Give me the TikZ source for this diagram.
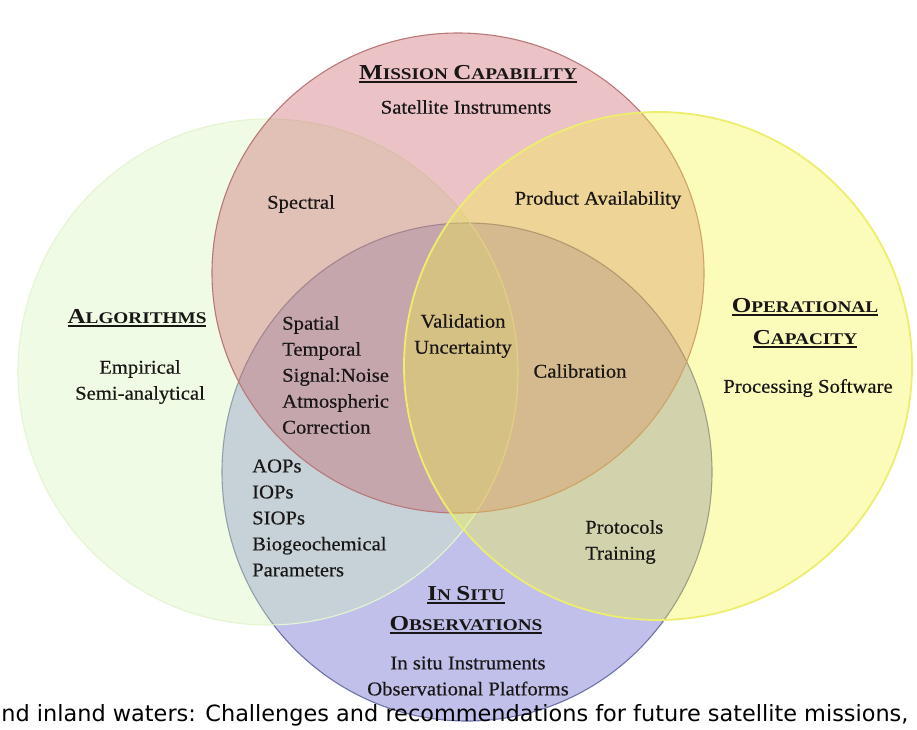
\documentclass[tikz,border=0pt]{standalone}
\usepackage{fontspec}
\setmainfont[FakeStretch=1.06, FakeBold=0.35]{Liberation Serif}
\newfontfamily\headfont[FakeStretch=1.18]{Liberation Serif}
\newfontfamily\capfont{DejaVu Sans}

% circle fills (drawn with partial opacity) and outlines
\definecolor{blueF}{RGB}{75,75,198}
\definecolor{blueE}{RGB}{110,115,165}
\definecolor{greenF}{RGB}{210,245,180}
\definecolor{greenE}{RGB}{228,245,210}
\definecolor{redF}{RGB}{200,85,95}
\definecolor{redE}{RGB}{185,120,120}
\definecolor{yellowF}{RGB}{246,246,60}
\definecolor{yellowE}{RGB}{238,238,110}
\definecolor{txt}{RGB}{25,22,22}

% small-caps headings: a large initial followed by reduced capitals
\newcommand\hsc[2]{{\fontsize{21.3}{26}\selectfont #1}{\fontsize{16.3}{26}\selectfont #2}}
% heavy rule under a heading line
\newcommand\ulhead[1]{\setbox0=\hbox{#1}\rlap{\rule[-4pt]{\wd0}{2.2pt}}\box0}

\begin{document}
\begin{tikzpicture}[x=1pt,y=-1pt,
  body/.style={font=\fontsize{19.5}{26}\selectfont, text=txt, inner sep=0pt},
  listL/.style={body, align=left},
  listC/.style={body, align=center},
  head/.style={font=\headfont\bfseries\fontsize{18}{26}\selectfont, text=txt, inner sep=0pt, anchor=base},
  venn/.style={fill opacity=0.35, line width=1.1pt}]
\useasboundingbox (0,0) rectangle (917,729);
\fill[white] (0,0) rectangle (917,729);

% the four sets
\filldraw[venn, fill=blueF, draw=blueE] (467,472) ellipse [x radius=245pt, y radius=249pt];
\filldraw[venn, fill=greenF, draw=greenE] (268,372) ellipse [x radius=250pt, y radius=253pt];
\filldraw[venn, fill=redF, draw=redE] (458,273) ellipse [x radius=246pt, y radius=240pt];
\filldraw[venn, fill=yellowF, draw=yellowE, line width=1.8pt] (658,366) ellipse [x radius=254pt, y radius=254pt];

% headings
\node[head] (mission) at (468,79) {\ulhead{\hsc{M}{ISSION} \hsc{C}{APABILITY}}};
\node[head] (algo) at (137,323) {\ulhead{\hsc{A}{LGORITHMS}}};
\node[head] (oper) at (805,312) {\ulhead{\hsc{O}{PERATIONAL}}};
\node[head] (capac) at (805,344) {\ulhead{\hsc{C}{APACITY}}};
\node[head] (insitu) at (466,600) {\ulhead{\hsc{I}{N} \hsc{S}{ITU}}};
\node[head] (observ) at (466,630) {\ulhead{\hsc{O}{BSERVATIONS}}};

% region contents
\node[body] (satinst) at (466,107) {Satellite Instruments};
\node[body] (spectral) at (301,204) {Spectral};
\node[body] (product) at (598,200) {Product Availability};
\node[listC] (empir) at (140,382) {Empirical\\Semi-analytical};
\node[body] (procsw) at (808,388) {Processing Software};
\node[listL, anchor=west] (spatial) at (282,375) {Spatial\\Temporal\\Signal:Noise\\Atmospheric\\Correction};
\node[listC] (valid) at (463,336) {Validation\\Uncertainty};
\node[body] (calib) at (580,371) {Calibration};
\node[listL, anchor=west] (aops) at (252,518) {AOPs\\IOPs\\SIOPs\\Biogeochemical\\Parameters};
\node[listL, anchor=west] (protoc) at (585,542) {Protocols\\Training};
\node[listC] (instr) at (468,676) {In situ Instruments\\Observational Platforms};

% caption line running along the lower edge
\node[font=\capfont\fontsize{22.4}{26}\selectfont, text=black, inner sep=0pt, anchor=base west]
  (caption) at (-12.5,721) {and inland waters: Challenges and recommendations for future satellite missions,};
\end{tikzpicture}
\end{document}
